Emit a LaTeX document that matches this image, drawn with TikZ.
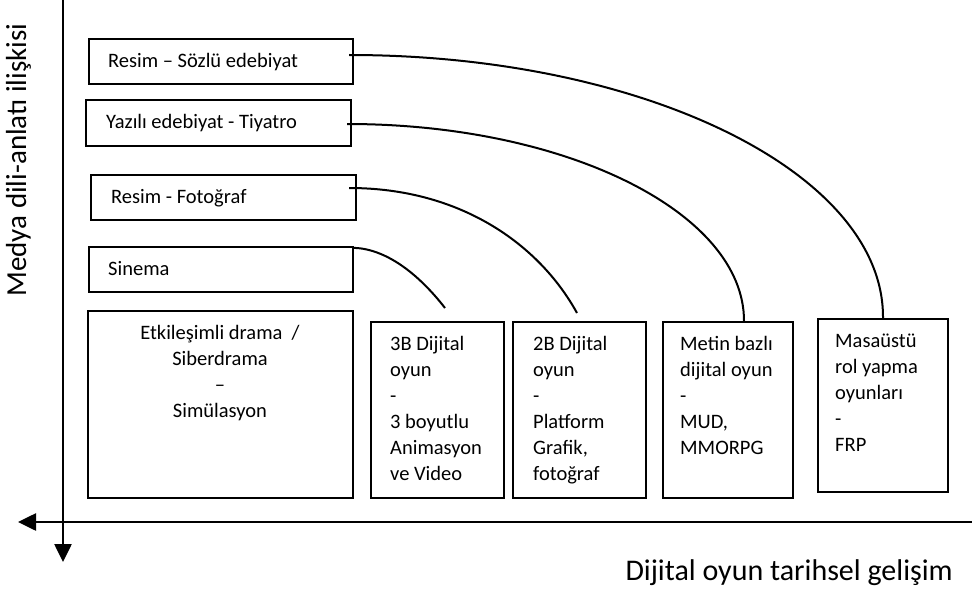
\documentclass[tikz,border=0pt]{standalone}
\usepackage{fontspec}
\setmainfont{Carlito}
\usetikzlibrary{arrows.meta}
\newcommand{\boxlines}[2]{\begin{tabular}[t]{@{}#1@{}}#2\end{tabular}}
\begin{document}
\begin{tikzpicture}[x=1pt,y=-1pt,
  box/.style={draw, line width=2.3pt, inner sep=0pt},
  txt/.style={inner sep=0pt, font=\fontsize{20.5}{26}\selectfont},
  link/.style={line width=2pt},
  axis/.style={line width=2.6pt, -{Triangle[length=18pt,width=17pt]}},
  axlabel/.style={inner sep=0pt}]
\useasboundingbox (0,0) rectangle (972,594);
% top boxes
\node[box, minimum width=264pt, minimum height=45pt] (b1) at (221,61.5) {};
\node[box, minimum width=265pt, minimum height=46pt] (b2) at (218.5,123) {};
\node[box, minimum width=265pt, minimum height=45pt] (b3) at (223.5,197.5) {};
\node[box, minimum width=264pt, minimum height=45pt] (b4) at (221,269.5) {};
\node[txt, anchor=base west] (t1) at (108,68) {Resim – Sözlü edebiyat};
\node[txt, anchor=base west] (t2) at (106,128) {Yazılı edebiyat - Tiyatro};
\node[txt, anchor=base west] (t3) at (111,203) {Resim - Fotoğraf};
\node[txt, anchor=base west] (t4) at (108,275) {Sinema};
% bottom boxes
\node[box, minimum width=265pt, minimum height=187pt] (b5) at (220.5,404.5) {};
\node[box, minimum width=133pt, minimum height=176pt] (b6) at (437.5,410) {};
\node[box, minimum width=133pt, minimum height=176pt] (b7) at (579.5,410) {};
\node[box, minimum width=130pt, minimum height=176pt] (b8) at (728,410) {};
\node[box, minimum width=130pt, minimum height=173pt] (b9) at (883,405.5) {};
\node[txt, anchor=base] (t5) at (220,339) {\boxlines{c}{Etkileşimli drama \ /\\Siberdrama\\–\\Simülasyon}};
\node[txt, anchor=base west] (t6) at (390,350) {\boxlines{l}{3B Dijital\\oyun\\-\\3 boyutlu\\Animasyon\\ve Video}};
\node[txt, anchor=base west] (t7) at (533,350) {\boxlines{l}{2B Dijital\\oyun\\-\\Platform\\Grafik,\\fotoğraf}};
\node[txt, anchor=base west] (t8) at (680,350) {\boxlines{l}{Metin bazlı\\dijital oyun\\-\\MUD,\\MMORPG}};
\node[txt, anchor=base west] (t9) at (835,347) {\boxlines{l}{Masaüstü\\rol yapma\\oyunları\\-\\FRP}};
% connectors
\coordinate (e3) at (577,313);
\coordinate (e4) at (445,308);
\draw[link] ([xshift=-5pt,yshift=6.5pt]b1.east) .. controls (644,55) and (884,173) .. (b9.north);
\draw[link] ([xshift=-5pt,yshift=-1pt]b2.east) .. controls (567,124) and (744,213) .. ([xshift=16pt]b8.north);
\draw[link] ([xshift=-8pt,yshift=9.5pt]b3.east) .. controls (460,188) and (539,244) .. (e3);
\draw[link] ([yshift=-2pt]b4.north east) .. controls (385,249) and (417,272) .. (e4);
% axes
\coordinate (vtop) at (63,0);
\coordinate (vbot) at (63,562);
\coordinate (hright) at (972,522);
\coordinate (hleft) at (18,522);
\draw[axis] (vtop) -- (vbot);
\draw[axis] (hright) -- (hleft);
\node[axlabel, font=\fontsize{29}{32}\selectfont, rotate=90, anchor=base] (ly) at (26,160) {Medya dili-anlatı ilişkisi};
\node[axlabel, font=\fontsize{30}{34}\selectfont, anchor=base east] (lx) at (953,580) {Dijital oyun tarihsel gelişim};
\end{tikzpicture}
\end{document}
